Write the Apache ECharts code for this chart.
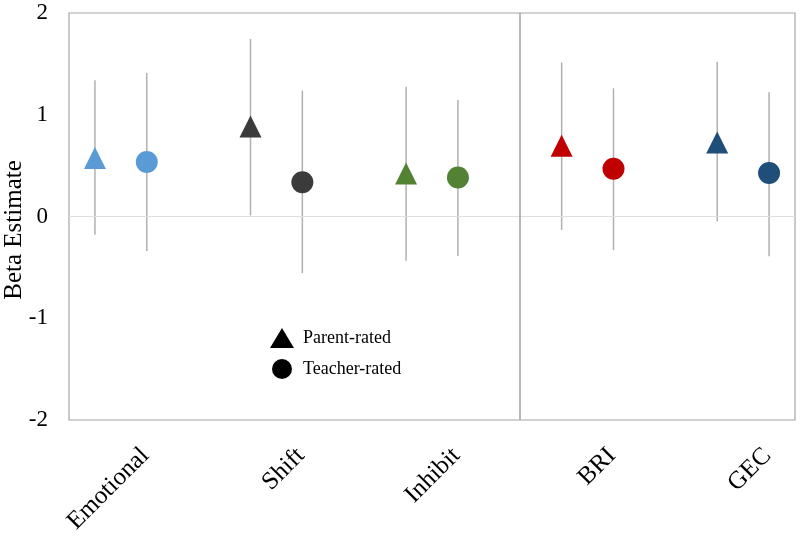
<!DOCTYPE html>
<html>
<head>
<meta charset="utf-8">
<script src="https://cdn.jsdelivr.net/npm/echarts@6/dist/echarts.min.js"></script>
<style>html,body{margin:0;padding:0;background:#fff;}#chart{width:800px;height:548px;}</style>
</head>
<body>
<div id="chart"></div>
<script>
const categories = ['Emotional', 'Shift', 'Inhibit', 'BRI', 'GEC'];
const parentEst  = [0.575, 0.885, 0.423, 0.695, 0.727];
const parentLow  = [-0.18, 0.01, -0.434, -0.133, -0.05];
const parentHigh = [1.34, 1.745, 1.276, 1.515, 1.52];
const teacherEst  = [0.536, 0.336, 0.383, 0.469, 0.427];
const teacherLow  = [-0.339, -0.556, -0.388, -0.33, -0.39];
const teacherHigh = [1.41, 1.236, 1.145, 1.26, 1.22];
const catColors = ['#5b9bd5', '#3b3b3b', '#548235', '#c00000', '#1f4e79'];
const yTicks = [-2, -1, 0, 1, 2];
const dividerAt = 8.2;

const FONT = '"Liberation Serif", "Times New Roman", serif';
const px = i => 3 * i;       // parent-rated slot
const tx = i => 3 * i + 1;   // teacher-rated slot
const LABEL_SHIFT = -0.03;

const parentData = categories.map((c, i) => ({value: [px(i), parentEst[i]], itemStyle: {color: catColors[i]}}));
const teacherData = categories.map((c, i) => ({value: [tx(i), teacherEst[i]], itemStyle: {color: catColors[i]}}));
const errData = [];
categories.forEach((c, i) => {
  errData.push([px(i), parentLow[i], parentHigh[i]]);
  errData.push([tx(i), teacherLow[i], teacherHigh[i]]);
});

const chart = echarts.init(document.getElementById('chart'), null, {renderer: 'canvas'});
chart.setOption({
  animation: false,
  backgroundColor: '#fff',
  grid: {left: 69, right: 5, top: 13, bottom: 128, show: true, borderColor: '#a6a6a6', borderWidth: 1.2, containLabel: false},
  xAxis: {
    type: 'value', min: -0.5, max: 13.5,
    axisLine: {show: false}, axisTick: {show: false}, splitLine: {show: false},
    axisLabel: {
      customValues: categories.map((c, i) => tx(i) + LABEL_SHIFT),
      formatter: v => categories[Math.round((v - 1 - LABEL_SHIFT) / 3)],
      rotate: 45, margin: 32, fontFamily: FONT, fontSize: 25, color: '#000'
    }
  },
  yAxis: {
    type: 'value', min: yTicks[0], max: yTicks[yTicks.length - 1], interval: 1,
    axisLine: {show: false}, axisTick: {show: false}, splitLine: {show: false},
    axisLabel: {margin: 21, fontFamily: FONT, fontSize: 23, color: '#000'}
  },
  legend: {
    orient: 'vertical', left: 265, top: 323, itemWidth: 24, itemHeight: 20, itemGap: 11,
    textStyle: {fontFamily: FONT, fontSize: 18, color: '#000', padding: [0, 0, 0, 4]},
    data: [
      {name: 'Parent-rated', icon: 'triangle', itemStyle: {color: '#000'}},
      {name: 'Teacher-rated', icon: 'circle', itemStyle: {color: '#000'}}
    ]
  },
  graphic: [{
    type: 'text', x: 14, y: 230, rotation: Math.PI / 2,
    style: {text: 'Beta Estimate', fontFamily: FONT, fontSize: 25, fill: '#000', align: 'center', verticalAlign: 'middle'}
  }],
  series: [
    {
      type: 'custom', name: 'err', silent: true, z: 1,
      renderItem: (params, api) => {
        const a = api.coord([api.value(0), api.value(1)]);
        const b = api.coord([api.value(0), api.value(2)]);
        return {type: 'line', shape: {x1: a[0], y1: a[1], x2: b[0], y2: b[1]}, style: {stroke: '#b0b0b0', lineWidth: 1.5}};
      },
      encode: {x: 0, y: [1, 2]},
      data: errData,
      markLine: {
        silent: true, symbol: 'none', label: {show: false},
        data: [
          {yAxis: 0, lineStyle: {color: '#dedede', width: 1.2, type: 'solid'}},
          {xAxis: dividerAt, lineStyle: {color: '#a0a0a0', width: 1.5, type: 'solid'}}
        ]
      }
    },
    {type: 'scatter', name: 'Parent-rated', symbol: 'triangle', symbolSize: 22, z: 3, data: parentData, itemStyle: {opacity: 1}},
    {type: 'scatter', name: 'Teacher-rated', symbol: 'circle', symbolSize: 22, z: 3, data: teacherData, itemStyle: {opacity: 1}}
  ]
});
</script>
</body>
</html>
